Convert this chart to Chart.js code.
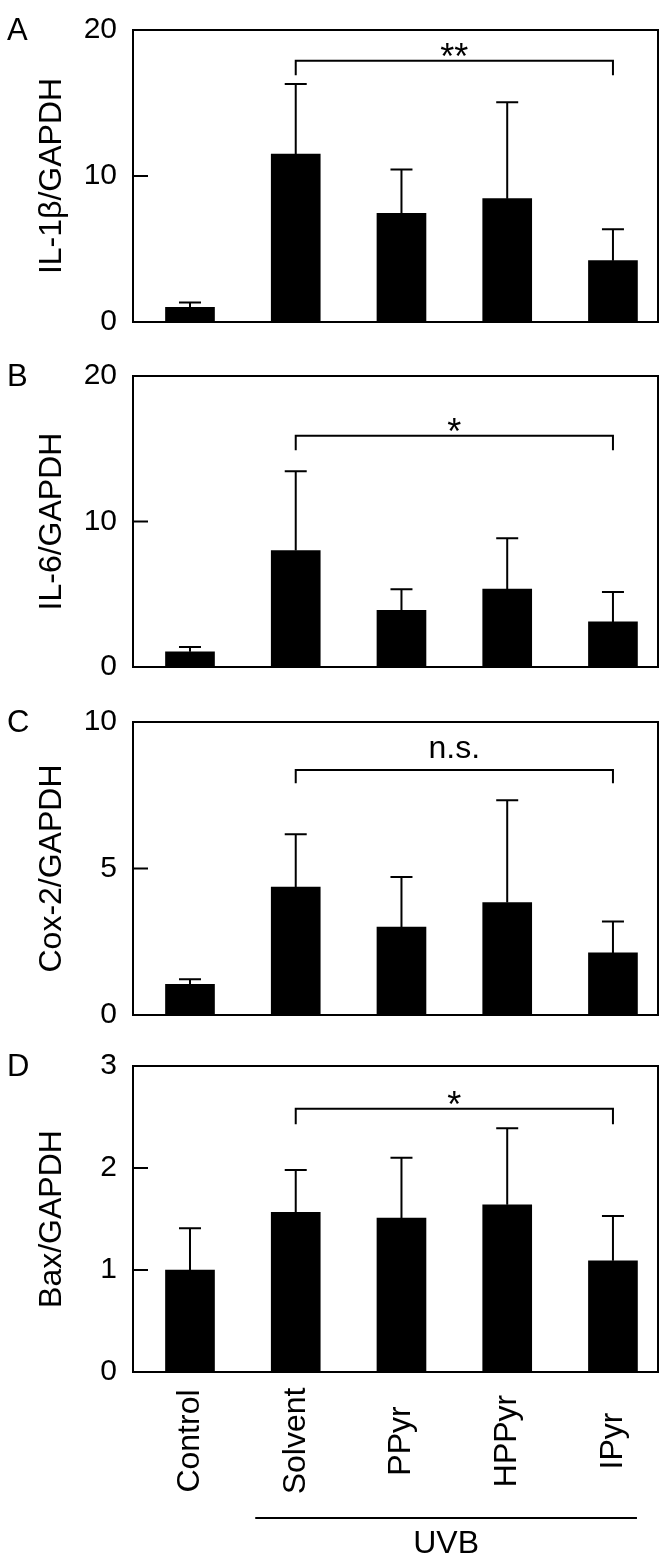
<!DOCTYPE html>
<html>
<head>
<meta charset="utf-8">
<script src="https://cdn.jsdelivr.net/npm/chart.js@4.4.1/dist/chart.umd.min.js"></script>
<style>
  body { margin: 0; background: #fff; width: 667px; height: 1563px; position: relative; overflow: hidden; }
  .pannello { position: absolute; left: 0; width: 667px; }
</style>
</head>
<body>
<div class="pannello" id="pA"><canvas id="graficoA"></canvas></div>
<div class="pannello" id="pB"><canvas id="graficoB"></canvas></div>
<div class="pannello" id="pC"><canvas id="graficoC"></canvas></div>
<div class="pannello" id="pD"><canvas id="graficoD"></canvas></div>
<script>
// dati
var categorie = ['Control', 'Solvent', 'PPyr', 'HPPyr', 'IPyr'];

var il1b = [1.0, 11.5, 7.45, 8.45, 4.2];
var il1bErr = [1.33, 16.3, 10.45, 15.05, 6.35];
var il6 = [1.05, 8.0, 3.9, 5.35, 3.1];
var il6Err = [1.38, 13.45, 5.35, 8.85, 5.15];
var cox2 = [1.05, 4.37, 3.0, 3.84, 2.12];
var cox2Err = [1.22, 6.17, 4.71, 7.33, 3.19];
var bax = [1.0, 1.565, 1.51, 1.64, 1.09];
var baxErr = [1.41, 1.98, 2.1, 2.39, 1.53];

var ticksA = [0, 10, 20];
var ticksB = [0, 10, 20];
var ticksC = [0, 5, 10];
var ticksD = [0, 1, 2, 3];

// parentesi di significativita': [altezza, fine gambe]
var parentesiA = [17.9, 16.9];
var parentesiB = [15.9, 14.9];
var parentesiC = [8.36, 7.91];
var parentesiD = [2.58, 2.43];
var significativita = ['**', '*', 'n.s.', '*'];

var FONT = "'Liberation Sans', Arial, sans-serif";
Chart.defaults.font.family = FONT;
Chart.defaults.color = '#000';

// FUNCTIONS

function pluginDisegno(valori, errori, parentesi, sig, lettera, ultimo) {
    return {
        id: 'disegno',
        afterDatasetsDraw: function (chart) {
            var ctx = chart.ctx;
            var area = chart.chartArea;
            var x = chart.scales.x;
            var y = chart.scales.y;
            var meta = chart.getDatasetMeta(0);
            ctx.save();
            ctx.strokeStyle = '#000';
            ctx.fillStyle = '#000';
            ctx.lineWidth = 2;

            // barre di errore
            errori.forEach(function (e, i) {
                var bx = meta.data[i].x;
                var yb = y.getPixelForValue(valori[i]);
                var ye = y.getPixelForValue(e);
                ctx.beginPath();
                ctx.moveTo(bx, yb);
                ctx.lineTo(bx, ye);
                ctx.moveTo(bx - 11, ye);
                ctx.lineTo(bx + 11, ye);
                ctx.stroke();
            });

            // cornice
            ctx.strokeRect(area.left, area.top, area.right - area.left, area.bottom - area.top);

            // tacche verso l'interno
            y.ticks.forEach(function (t) {
                var ty = y.getPixelForValue(t.value);
                ctx.beginPath();
                ctx.moveTo(area.left, ty);
                ctx.lineTo(area.left + 15, ty);
                ctx.stroke();
            });

            // parentesi Solvent - IPyr
            var x1 = meta.data[1].x;
            var x2 = meta.data[4].x;
            var yp = y.getPixelForValue(parentesi[0]);
            var yl = y.getPixelForValue(parentesi[1]);
            ctx.beginPath();
            ctx.moveTo(x1, yl);
            ctx.lineTo(x1, yp);
            ctx.lineTo(x2, yp);
            ctx.lineTo(x2, yl);
            ctx.stroke();
            ctx.textAlign = 'center';
            ctx.textBaseline = 'alphabetic';
            if (sig.indexOf('*') >= 0) {
                ctx.font = '36px ' + FONT;
                ctx.fillText(sig, (x1 + x2) / 2, yp + 8);
            } else {
                ctx.font = '32px ' + FONT;
                ctx.fillText(sig, (x1 + x2) / 2, yp - 12);
            }

            // lettera del pannello
            ctx.textAlign = 'left';
            ctx.textBaseline = 'middle';
            ctx.font = '31px ' + FONT;
            ctx.fillText(lettera, 7, area.top + 1);

            if (ultimo) {
                // etichette delle categorie, ruotate e centrate
                ctx.font = '32px ' + FONT;
                ctx.textAlign = 'center';
                ctx.textBaseline = 'middle';
                categorie.forEach(function (c, i) {
                    ctx.save();
                    ctx.translate(x.getPixelForValue(i), area.bottom + 69);
                    ctx.rotate(-Math.PI / 2);
                    ctx.fillText(c, 0, 0);
                    ctx.restore();
                });

                // UVB
                var lx1 = x.getPixelForValue(0.617);
                var lx2 = x.getPixelForValue(4.227);
                ctx.beginPath();
                ctx.moveTo(lx1, area.bottom + 146);
                ctx.lineTo(lx2, area.bottom + 146);
                ctx.stroke();
                ctx.fillText('UVB', (lx1 + lx2) / 2, area.bottom + 172);
            }
            ctx.restore();
        }
    };
}

function grafico(id, divId, boxTop, boxBottom, valori, errori, ticks, titolo, parentesi, sig, lettera, ultimo) {
    var padTop = 25;
    var padBottom = ultimo ? 0 : 20;
    var asseX = ultimo ? 191 : 0;
    var altezza = ultimo ? (1563 - boxTop + padTop) : (boxBottom - boxTop + padTop + padBottom);
    var div = document.getElementById(divId);
    div.style.top = (boxTop - padTop) + 'px';
    div.style.height = altezza + 'px';
    var canvas = document.getElementById(id);
    canvas.width = 667;
    canvas.height = altezza;

    var punti = valori.map(function (v, i) { return { x: i, y: v }; });

    return new Chart(canvas, {
        type: 'bar',
        data: {
            datasets: [{
                data: punti,
                backgroundColor: '#000',
                borderWidth: 0,
                barThickness: 49
            }]
        },
        options: {
            responsive: false,
            animation: false,
            layout: { padding: { top: padTop, bottom: padBottom, left: 0, right: 9 } },
            plugins: { legend: { display: false }, tooltip: { enabled: false } },
            scales: {
                x: {
                    type: 'linear',
                    display: ultimo,
                    min: -0.539,
                    max: 4.426,
                    offset: false,
                    grid: { display: false, drawTicks: false },
                    border: { display: false },
                    ticks: { display: false },
                    afterFit: function (scale) {
                        scale.height = asseX;
                        scale.paddingLeft = 0;
                        scale.paddingRight = 0;
                    }
                },
                y: {
                    min: ticks[0],
                    max: ticks[ticks.length - 1],
                    grid: { display: false, drawTicks: false },
                    border: { display: false },
                    afterBuildTicks: function (scale) {
                        scale.ticks = ticks.map(function (t) { return { value: t }; });
                    },
                    ticks: { padding: 16, font: { size: 30 }, color: '#000' },
                    title: {
                        display: true,
                        text: titolo,
                        font: { size: 32 },
                        color: '#000',
                        padding: { top: 33, bottom: 0 }
                    },
                    afterFit: function (scale) {
                        scale.width = 133;
                    }
                }
            }
        },
        plugins: [pluginDisegno(valori, errori, parentesi, sig, lettera, ultimo)]
    });
}

grafico('graficoA', 'pA', 21, 336, il1b, il1bErr, ticksA, 'IL-1β/GAPDH', parentesiA, significativita[0], 'A', false);
grafico('graficoB', 'pB', 367, 681, il6, il6Err, ticksB, 'IL-6/GAPDH', parentesiB, significativita[1], 'B', false);
grafico('graficoC', 'pC', 713, 1029, cox2, cox2Err, ticksC, 'Cox-2/GAPDH', parentesiC, significativita[2], 'C', false);
grafico('graficoD', 'pD', 1057, 1372, bax, baxErr, ticksD, 'Bax/GAPDH', parentesiD, significativita[3], 'D', true);
</script>
</body>
</html>
